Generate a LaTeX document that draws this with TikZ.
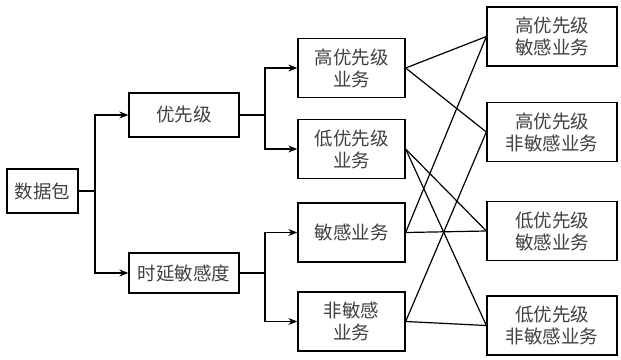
\documentclass[tikz,border=0pt]{standalone}
\usepackage{fontspec}
\setmainfont{Noto Sans CJK SC}
\usetikzlibrary{arrows.meta}
\begin{document}
\begin{tikzpicture}[x=1pt,y=-1pt,
  box/.style={draw, line width=1.3pt, inner sep=0pt, align=center, font=\fontsize{18.5}{22}\selectfont, text=black!75},
  conn/.style={line width=1.2pt},
  arr/.style={conn, -{Stealth[length=9pt,width=7pt]}}]
\useasboundingbox (0,0) rectangle (621,359);
\node[box, minimum width=71pt, minimum height=44pt] (pkt) at (42.5,191) {数据包};
\node[box, minimum width=110pt, minimum height=44pt] (pri) at (184,115) {优先级};
\node[box, minimum width=110pt, minimum height=40pt] (del) at (184,273) {时延敏感度};
\node[box, minimum width=107pt, minimum height=59pt] (hp) at (351.5,68) {高优先级\\业务};
\node[box, minimum width=107pt, minimum height=59pt] (lp) at (351.5,149) {低优先级\\业务};
\node[box, minimum width=107pt, minimum height=59pt] (se) at (351.5,232.5) {敏感业务};
\node[box, minimum width=107pt, minimum height=59pt] (ns) at (351.5,321.5) {非敏感\\业务};
\node[box, minimum width=130pt, minimum height=59pt] (hs) at (552,36.5) {高优先级\\敏感业务};
\node[box, minimum width=130pt, minimum height=59pt] (hn) at (552,132) {高优先级\\非敏感业务};
\node[box, minimum width=130pt, minimum height=59pt] (ls) at (552,231) {低优先级\\敏感业务};
\node[box, minimum width=130pt, minimum height=59pt] (ln) at (552,325.5) {低优先级\\非敏感业务};
\coordinate (j1) at (95,191);
\coordinate (j2) at (265,115);
\coordinate (j3) at (265,273);
\draw[conn] (pkt.east) -- (j1);
\draw[arr] (j1) |- (pri.west);
\draw[arr] (j1) |- (del.west);
\draw[conn] (pri.east) -- (j2);
\draw[arr] (j2) |- (hp.west);
\draw[arr] (j2) |- (lp.west);
\draw[conn] (del.east) -- (j3);
\draw[arr] (j3) |- (se.west);
\draw[arr] (j3) |- (ns.west);
\draw[conn] (hp.east) -- (hs.west);
\draw[conn] (hp.east) -- (hn.west);
\draw[conn] (lp.east) -- (ls.west);
\draw[conn] (lp.east) -- (ln.west);
\draw[conn] (se.east) -- (hs.west);
\draw[conn] (se.east) -- (ls.west);
\draw[conn] (ns.east) -- (hn.west);
\draw[conn] (ns.east) -- (ln.west);
\end{tikzpicture}
\end{document}
